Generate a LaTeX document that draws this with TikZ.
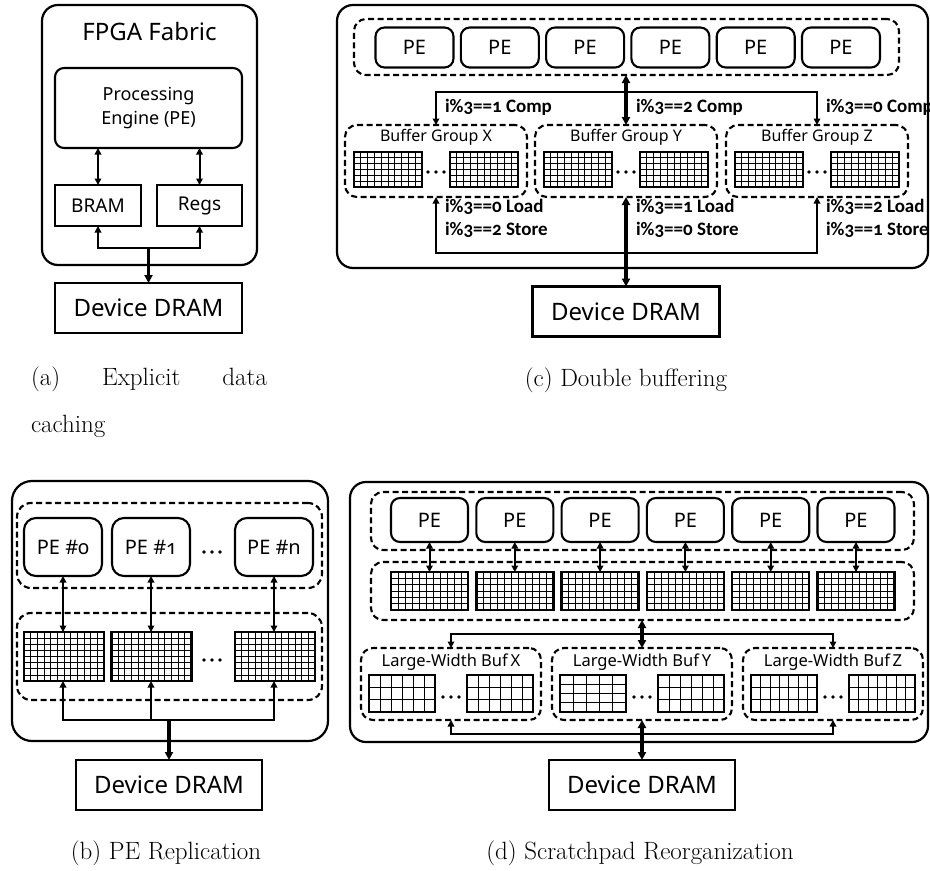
\documentclass[tikz,border=0pt]{standalone}
\usepackage{fontspec}
\newfontfamily\labfont{Noto Sans}[Numbers=OldStyle]
\newfontfamily\condfont{Carlito}[Numbers=OldStyle]
\usetikzlibrary{arrows.meta,calc}

\newcommand\sz[2]{\fontsize{#1}{#2}\selectfont}

\tikzset{
  every node/.style={inner sep=0pt, outer sep=0pt},
  fabric/.style={draw, line width=2.2pt, rounded corners=16pt},
  pebox/.style={draw, line width=2.1pt, rounded corners=9pt, font=\labfont\sz{20}{24}},
  plainbox/.style={draw, line width=2.1pt, font=\labfont\sz{19}{22}},
  drambox/.style={draw, line width=2.1pt, minimum width=187, minimum height=50, font=\labfont\sz{24}{28}},
  dgroup/.style={draw, line width=2.1pt, dash pattern=on 6pt off 3.5pt, rounded corners=12pt},
  gridframe/.style={line width=2.4pt},
  gridline/.style={line width=0.7pt},
  wire/.style={line width=2pt, >={Triangle[length=6.5pt,width=6.5pt]}},
  bigwire/.style={line width=3.2pt, >={Triangle[length=8pt,width=8pt]}},
  cond/.style={font=\condfont\bfseries\sz{19}{22}, anchor=west},
  glabel/.style={font=\labfont\sz{16}{18}},
  wlabel/.style={font=\labfont\sz{16.5}{18}},
  capt/.style={font=\sz{25}{47}},
}

% a buffer drawn as a framed grid: name, centre x, centre y, width, height, columns, rows
\newcommand\bufgrid[7]{%
  \node[minimum width=#4, minimum height=#5] (#1) at (#2,#3) {};
  \pgfmathtruncatemacro\ncm{#6-1}
  \pgfmathtruncatemacro\nrm{#7-1}
  \foreach \k in {1,...,\ncm}
    \draw[gridline] ($(#1.south west)!\k/#6!(#1.south east)$) -- ($(#1.north west)!\k/#6!(#1.north east)$);
  \foreach \k in {1,...,\nrm}
    \draw[gridline] ($(#1.south west)!\k/#7!(#1.north west)$) -- ($(#1.south east)!\k/#7!(#1.north east)$);
  \draw[gridframe] (#1.south west) rectangle (#1.north east);
}
% three dots between buffers
\newcommand\dotrow[2]{%
  \foreach \d in {-8,0,8} \fill (#1+\d,#2) circle[radius=1.9pt];
}

\begin{document}
\begin{tikzpicture}[x=1pt,y=-1pt]
\useasboundingbox (0,0) rectangle (930,871);

%% ---------- (a) explicit data caching ----------
\node[fabric, minimum width=215, minimum height=260] (fabA) at (149.5,135) {};
\node[font=\labfont\sz{24}{28}] (fabAt) at (149.5,31) {FPGA Fabric};
\node[pebox, minimum width=187, minimum height=80, align=center, font=\labfont\sz{18}{24}] (peA) at (148.5,108) {Processing\\Engine (PE)};
\node[plainbox, minimum width=86, minimum height=41] (bram) at (98,205.5) {BRAM};
\node[plainbox, minimum width=85, minimum height=41] (regs) at (199.5,205.5) {Regs};
\node[drambox] (dramA) at (148.5,308) {Device DRAM};
\draw[wire,<->] (peA.south -| bram.north) -- (bram.north);
\draw[wire,<->] (peA.south -| regs.north) -- (regs.north);
\coordinate (jA) at (148.5,248);
\draw[wire,<->] (bram.south) -- (bram.south |- jA) -- (regs.south |- jA) -- (regs.south);
\draw[bigwire,->] (jA) -- (dramA.north);
\node[capt, anchor=north west, text width=236pt, align=justify] (capA) at (31,367) {(a) Explicit data caching};

%% ---------- (c) double buffering ----------
\node[fabric, minimum width=591, minimum height=263] (fabC) at (632.5,136.5) {};
\node[dgroup, minimum width=545, minimum height=56] (pegC) at (626.5,47) {};
\foreach \i [evaluate=\i as \x using 414.5+85.3*\i] in {0,...,5}
  \node[pebox, minimum width=78, minimum height=40] (pc\i) at (\x,47.5) {PE};
\foreach \n/\cx in {X/436, Y/626, Z/817} {
  \node[dgroup, minimum width=182, minimum height=72] (bg\n) at (\cx,161) {};
  \node[glabel] (bgl\n) at (\cx,137) {Buffer Group \n};
  \bufgrid{ga\n}{\cx-48}{169.5}{68}{35}{10}{6}
  \bufgrid{gb\n}{\cx+48}{169.5}{68}{35}{10}{6}
  \dotrow{\cx}{172}
}
\coordinate (cTop) at (626,92);
\draw[wire,->] (bgY.north |- cTop) -| (bgX.north);
\draw[wire,->] (bgY.north |- cTop) -| (bgZ.north);
\draw[bigwire,<->] (bgY.north |- pegC.south) -- (bgY.north);
\node[cond] (cmpX) at (445,107) {i\%3==1 Comp};
\node[cond] (cmpY) at (636,107) {i\%3==2 Comp};
\node[cond] (cmpZ) at (826,107) {i\%3==0 Comp};
\node[drambox] (dramC) at (626,311.5) {Device DRAM};
\coordinate (cBot) at (626,253);
\draw[wire,<->] (bgX.south) -- (bgX.south |- cBot) -- (bgZ.south |- cBot) -- (bgZ.south);
\draw[bigwire,<->] (bgY.south) -- (dramC.north);
\node[cond] (ldX) at (445,207) {i\%3==0 Load};
\node[cond] (stX) at (445,230) {i\%3==2 Store};
\node[cond] (ldY) at (636,207) {i\%3==1 Load};
\node[cond] (stY) at (636,230) {i\%3==0 Store};
\node[cond] (ldZ) at (826,207) {i\%3==2 Load};
\node[cond] (stZ) at (826,230) {i\%3==1 Store};
\node[capt, anchor=base] (capC) at (626,386) {(c) Double buffering};

%% ---------- (b) PE replication ----------
\node[fabric, rounded corners=20pt, minimum width=316, minimum height=260] (fabB) at (170,611) {};
\node[dgroup, rounded corners=14pt, minimum width=305, minimum height=85] (pegB) at (169.5,545.5) {};
\node[pebox, rounded corners=12pt, minimum width=78, minimum height=58] (pb0) at (63,547) {PE \#0};
\node[pebox, rounded corners=12pt, minimum width=78, minimum height=58] (pb1) at (151,547) {PE \#1};
\node[pebox, rounded corners=12pt, minimum width=78, minimum height=58] (pbn) at (274,547) {PE \#n};
\dotrow{212}{552}
\node[dgroup, rounded corners=14pt, minimum width=305, minimum height=87] (grgB) at (169.5,656.5) {};
\bufgrid{gb0}{64}{656.5}{80}{49}{12}{8}
\bufgrid{gb1}{151.5}{656.5}{80}{49}{12}{8}
\bufgrid{gbn}{275}{656.5}{80}{49}{12}{8}
\dotrow{212}{660}
\draw[wire,<->] (pb0.south) -- (pb0.south |- gb0.north);
\draw[wire,<->] (pb1.south) -- (pb1.south |- gb1.north);
\draw[wire,<->] (pbn.south) -- (pbn.south |- gbn.north);
\coordinate (jB) at (169,720);
\draw[wire,<->] (pb0.south |- gb0.south) -- (pb0.south |- jB) -- (pbn.south |- jB) -- (pbn.south |- gbn.south);
\draw[wire,->] (pb1.south |- jB) -- (pb1.south |- gb1.south);
\node[drambox, minimum width=186] (dramB) at (169,785) {Device DRAM};
\draw[bigwire,->] (jB) -- (dramB.north);
\node[capt, anchor=base] (capB) at (166,859) {(b) PE Replication};

%% ---------- (d) scratchpad reorganization ----------
\node[fabric, minimum width=578, minimum height=260] (fabD) at (639,612) {};
\node[dgroup, minimum width=543, minimum height=58] (pegD) at (642.5,521) {};
\node[dgroup, minimum width=543, minimum height=58] (grgD) at (642.5,591) {};
\foreach \i [evaluate=\i as \x using 429.5+85.3*\i] in {0,...,5} {
  \node[pebox, minimum width=77, minimum height=44] (pd\i) at (\x,520) {PE};
  \bufgrid{gd\i}{\x}{591}{77}{38}{11}{6}
  \draw[wire,<->] (pd\i.south) -- (gd\i.north);
}
\foreach \n/\cx in {X/451, Y/642, Z/833} {
  \node[dgroup, minimum width=180, minimum height=72] (bd\n) at (\cx,684) {};
  \node[wlabel] (bdl\n) at (\cx,662) {Large-Width Buf\,\n};
  \dotrow{\cx}{697}
}
\bufgrid{wxa}{402}{693.5}{66}{37}{6}{3}
\bufgrid{wxb}{500}{693.5}{66}{37}{6}{3}
\bufgrid{wya}{593}{693.5}{66}{37}{5}{4}
\bufgrid{wyb}{691}{693.5}{66}{37}{6}{3}
\bufgrid{wza}{784}{693.5}{66}{37}{7}{3}
\bufgrid{wzb}{882}{693.5}{66}{37}{7}{3}
\coordinate (dTop) at (642,634);
\draw[wire,->] (bdY.north |- dTop) -| (bdX.north);
\draw[wire,->] (bdY.north |- dTop) -| (bdZ.north);
\draw[bigwire,<->] (bdY.north |- grgD.south) -- (bdY.north);
\node[drambox, minimum width=186] (dramD) at (642,785) {Device DRAM};
\coordinate (dBot) at (642,734);
\draw[wire,<->] (bdX.south) -- (bdX.south |- dBot) -- (bdZ.south |- dBot) -- (bdZ.south);
\draw[bigwire,<->] (bdY.south) -- (dramD.north);
\node[capt, anchor=base] (capD) at (640,859) {(d) Scratchpad Reorganization};
\end{tikzpicture}
\end{document}
